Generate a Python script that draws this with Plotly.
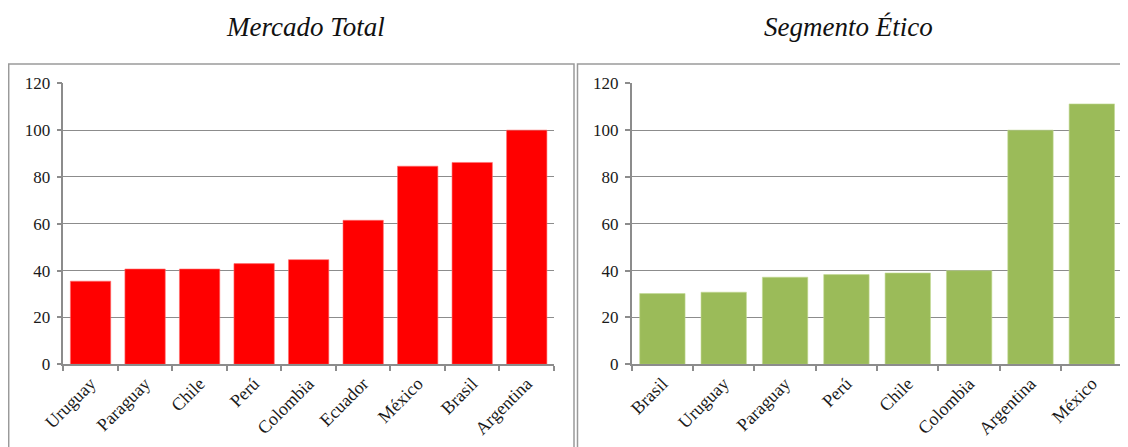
import plotly.graph_objects as go

W, H = 1128, 447
OX, OY = 8, 8  # page body margin offset applied by browser

left_categories = ["Uruguay", "Paraguay", "Chile", "Perú", "Colombia", "Ecuador", "México", "Brasil", "Argentina"]
left_values = [35.5, 40.7, 40.7, 43.0, 44.7, 61.5, 84.6, 86.2, 100.0]

right_categories = ["Brasil", "Uruguay", "Paraguay", "Perú", "Chile", "Colombia", "Argentina", "México"]
right_values = [30.2, 30.8, 37.2, 38.3, 39.0, 40.0, 100.0, 111.2]

y_ticks = [0, 20, 40, 60, 80, 100, 120]

SERIF = "Liberation Serif, Times New Roman, serif"
GRID = "#8c8c8c"


def px(x):
    return (x - OX) / W


def py(y):
    return 1 - (y - OY) / H


fig = go.Figure()
fig.add_trace(go.Bar(x=left_categories, y=left_values, xaxis="x", yaxis="y",
                     marker=dict(color="#FF0000", line=dict(color="#ff6f6f", width=0.6)),
                     showlegend=False, hoverinfo="x+y"))
fig.add_trace(go.Bar(x=right_categories, y=right_values, xaxis="x2", yaxis="y2",
                     marker=dict(color="#9BBB59", line=dict(color="#c3da93", width=0.6)),
                     showlegend=False, hoverinfo="x+y"))

y0, y1 = py(364.3), py(83.3)

xcommon = dict(type="category", showline=True, linecolor=GRID, linewidth=1.5,
               ticks="outside", tickson="boundaries", ticklen=5, tickcolor=GRID, tickwidth=1.5,
               tickangle=-45, tickfont=dict(family=SERIF, size=18, color="#1a1a1a"),
               showgrid=False, fixedrange=True, automargin=False)
ycommon = dict(range=[0, 120], tickvals=y_ticks, showline=True, linecolor=GRID, linewidth=1.5,
               ticks="outside", ticklen=5, tickcolor=GRID, tickwidth=1.5,
               showgrid=True, gridcolor=GRID, gridwidth=1.2, zeroline=False,
               tickfont=dict(family=SERIF, size=17, color="#1a1a1a"), ticklabelstandoff=3,
               fixedrange=True, automargin=False)

fig.update_layout(
    width=W, height=H,
    margin=dict(l=0, r=0, t=0, b=0, pad=0),
    paper_bgcolor="white", plot_bgcolor="white",
    bargap=0.26,
    xaxis=dict(domain=[px(63.3), px(554)], anchor="y", **xcommon),
    yaxis=dict(domain=[y0, y1], anchor="x", **ycommon),
    xaxis2=dict(domain=[px(631.7), px(1122.5)], anchor="y2", **xcommon),
    yaxis2=dict(domain=[y0, y1], anchor="x2", **ycommon),
    shapes=[
        dict(type="rect", xref="paper", yref="paper", x0=px(8.7), x1=px(574), y0=-0.05, y1=py(64),
             line=dict(color="#9a9a9a", width=1.5)),
        dict(type="rect", xref="paper", yref="paper", x0=px(577.5), x1=1.05, y0=-0.05, y1=py(64),
             line=dict(color="#9a9a9a", width=1.5)),
    ],
    annotations=[
        dict(text="<i>Mercado Total</i>", x=px(305), y=py(27), xref="paper", yref="paper",
             showarrow=False, font=dict(family=SERIF, size=27, color="#111"), xanchor="center", yanchor="middle"),
        dict(text="<i>Segmento Ético</i>", x=px(848), y=py(27), xref="paper", yref="paper",
             showarrow=False, font=dict(family=SERIF, size=27, color="#111"), xanchor="center", yanchor="middle"),
    ],
)

fig.write_html("out.html")
